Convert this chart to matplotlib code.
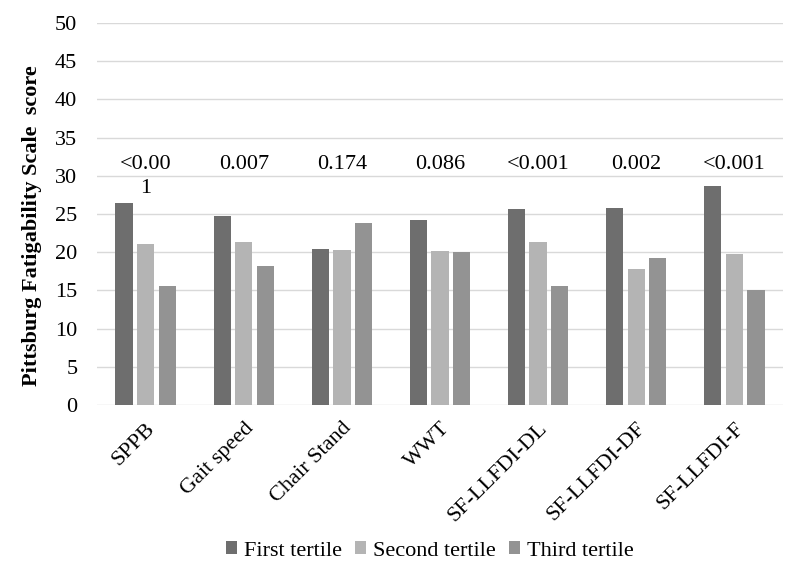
import matplotlib.pyplot as plt
import numpy as np

plt.rcParams["font.family"] = ["Liberation Serif", "DejaVu Serif"]

measures = ["SPPB", "Gait speed", "Chair Stand", "WWT",
            "SF-LLFDI-DL", "SF-LLFDI-DF", "SF-LLFDI-F"]
first_tertile = [26.4, 24.8, 20.4, 24.2, 25.6, 25.8, 28.7]
second_tertile = [21.1, 21.3, 20.3, 20.2, 21.3, 17.8, 19.8]
third_tertile = [15.6, 18.2, 23.8, 20.0, 15.6, 19.3, 15.0]
p_values = ["<0.00\n1", "0.007", "0.174", "0.086", "<0.001", "0.002", "<0.001"]

series = [
    ("First tertile", first_tertile, "#6e6e6e"),
    ("Second tertile", second_tertile, "#b4b4b4"),
    ("Third tertile", third_tertile, "#939393"),
]

fig = plt.figure(figsize=(8, 5.7), dpi=100)
ax = fig.add_axes([0.121, 0.2895, 0.858, 0.6701])

x = np.arange(len(measures))
width = 0.175
step = 0.222
for i, (name, vals, color) in enumerate(series):
    ax.bar(x + (i - 1) * step, vals, width, color=color, label=name, zorder=3)

# p-values above each group; the SPPB one wraps onto a second line
for xi, p in zip(x, p_values):
    ax.text(xi, 32.75, p, ha="center", va="top", fontsize=16,
            linespacing=1.4, zorder=4)

ax.set_xlim(-0.5, len(measures) - 0.5)
ax.set_ylim(0, 50)
ax.set_yticks(np.arange(0, 51, 5))
ax.yaxis.grid(True, color="#d9d9d9", linewidth=1, zorder=0)
ax.set_axisbelow(True)
for s in ax.spines.values():
    s.set_visible(False)
ax.tick_params(axis="both", length=0, labelsize=16)
ax.tick_params(axis="y", pad=14)
ax.tick_params(axis="x", pad=10)
ax.set_xticks(x)
ax.set_xticklabels(measures, rotation=45, ha="right", rotation_mode="anchor")

ax.set_ylabel("Pittsburg Fatigability Scale  score", fontsize=16,
              fontweight="bold")
ax.yaxis.set_label_coords(-0.08, 0.469)

ax.legend(loc="center", bbox_to_anchor=(0.485, -0.382), ncol=3, frameon=False,
          fontsize=16, handlelength=0.5, handleheight=0.5, handletextpad=0.3,
          columnspacing=0.6)

fig.savefig("out.png")
